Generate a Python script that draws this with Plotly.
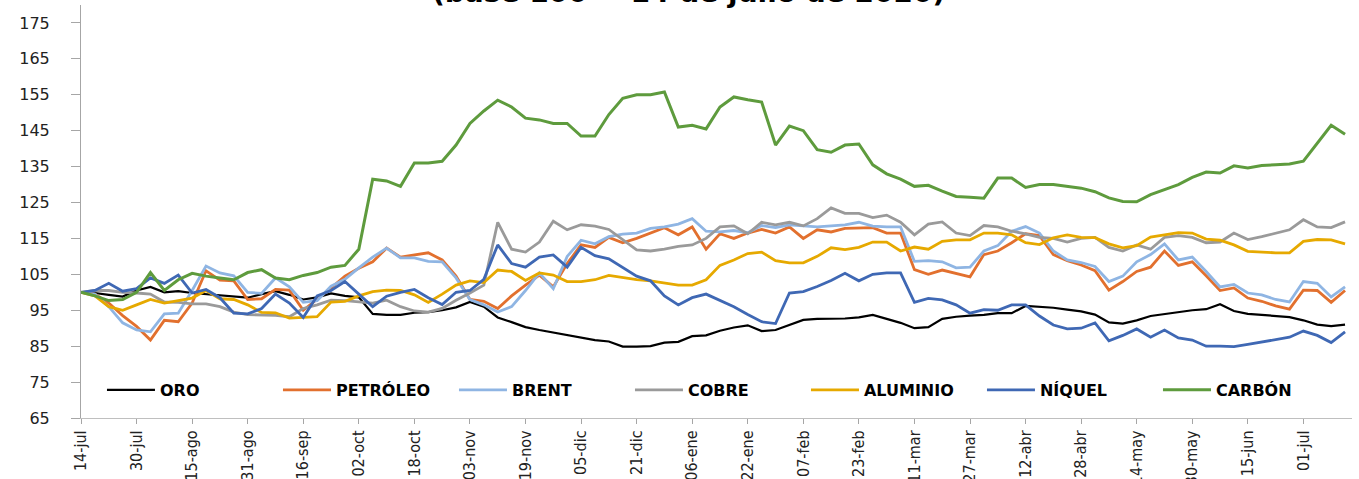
import pandas as pd
import plotly.graph_objects as go

# =====================================================
# Precios de materias primas (base 100 = 14 de julio de 2020)
# =====================================================

# fechas de las observaciones (cada 4 dias desde el 14-jul-2020)
fechas = pd.date_range('2020-07-14', periods=92, freq='4D')

oro = [
    100, 99.8, 99.3, 98.8, 100.5, 101.5, 100, 100.3, 99.8, 99.5, 99.3, 99, 98.5,
    99.5, 100.3, 99.3, 98, 98.6, 99.7, 99, 98.6, 94, 93.7, 93.7, 94.3, 94.5, 95,
    95.8, 97.3, 96, 93, 91.7, 90.3, 89.5, 88.8, 88.2, 87.6, 86.7, 86.3, 84.9, 84.9,
    85, 86, 86.2, 87.8, 88, 89.3, 90.2, 90.8, 89.2, 89.5, 91, 92.3, 92.6, 92.6,
    92.7, 93, 93.7, 92.6, 91.5, 90, 90.3, 92.6, 93.2, 93.5, 93.7, 94.2, 94.2, 96.2,
    96, 95.7, 95.2, 94.7, 93.8, 91.6, 91.3, 92.2, 93.4, 94, 94.6, 95, 95.3, 96.7,
    94.8, 94, 93.7, 93.4, 93.1, 92.2, 91, 90.6, 91,
]

petroleo = [
    100, 99.5, 97, 93.5, 90.5, 86.7, 92.2, 91.8, 97, 106, 103.4, 103.2, 98, 98.2,
    100.8, 100.6, 95, 98, 101.2, 104.5, 106.7, 108.5, 112.3, 109.8, 110.5, 111,
    109, 104.5, 98, 97.5, 95.5, 99, 102, 104.8, 101.5, 108, 113.2, 112.5, 115.3,
    113.8, 115, 116.5, 118, 116, 118.2, 112, 116.3, 115, 116.5, 117.5, 116.5,
    118.2, 115, 117.4, 116.8, 117.8, 118, 118, 116.5, 116.5, 106.3, 105, 106.2,
    105.3, 104.3, 110.5, 111.5, 113.8, 116.3, 115.8, 110.5, 108.8, 107.6, 106,
    100.6, 103, 105.8, 107, 111.5, 107.5, 108.5, 104.6, 100.5, 101.2, 98.4, 97.5,
    96.2, 95.3, 100.6, 100.5, 97.2, 100.5,
]

brent = [
    100, 99.5, 96, 91.5, 89.5, 89, 94, 94.2, 100.5, 107.3, 105.4, 104.6, 100, 99.7,
    104, 101.5, 97.2, 97.7, 101.7, 103.6, 106.8, 109.8, 112.3, 109.6, 109.6, 108.6,
    108.5, 104, 98, 96.5, 94.5, 96, 100.5, 105.4, 101, 110, 114.5, 113.5, 115.5,
    116.2, 116.5, 117.8, 118.2, 119, 120.5, 117, 116.8, 117.2, 116.6, 118.6, 118,
    118.8, 118.5, 118.2, 118.5, 118.8, 119.5, 118.4, 118.2, 118.2, 108.6, 108.8,
    108.5, 106.8, 107, 111.5, 113, 117, 118.3, 116.5, 111.5, 109, 108.3, 107.2,
    103, 104.5, 108.5, 110.5, 113.5, 109, 109.8, 105.8, 101.5, 102.2, 99.8, 99.3,
    98, 97.3, 103, 102.5, 98.7, 101.5,
]

cobre = [
    100, 100.5, 100.5, 100, 99.8, 99.5, 97.3, 97.2, 96.8, 96.8, 96, 94.5, 93.8,
    93.7, 93.6, 93.2, 95.5, 96.5, 97.8, 97.7, 97.3, 97, 97.8, 96, 94.8, 94.5, 95.5,
    97.8, 99.8, 102, 119.5, 112, 111.2, 114, 119.8, 117.4, 118.8, 118.4, 117.5,
    114.6, 111.8, 111.5, 112, 112.8, 113.2, 115, 118.2, 118.5, 116.3, 119.5, 118.8,
    119.5, 118.5, 120.5, 123.5, 122, 122, 120.8, 121.5, 119.5, 116, 119, 119.6,
    116.5, 115.8, 118.6, 118.2, 117, 116.3, 115.3, 115, 114, 115, 115.3, 112.5,
    111.5, 113.2, 112, 115.3, 115.8, 115.3, 113.8, 114, 116.5, 114.7, 115.5, 116.5,
    117.4, 120.2, 118.2, 118, 119.6,
]

aluminio = [
    100, 99, 96, 95, 96.5, 98, 97, 97.7, 98.4, 100.5, 98.2, 98, 96.5, 94.4, 94.3,
    92.8, 93.1, 93.2, 97.3, 97.5, 99, 100.2, 100.6, 100.5, 99.3, 97.2, 99.5, 102,
    103.2, 102.7, 106.2, 105.8, 103.3, 105.4, 104.8, 103, 103, 103.5, 104.7, 104,
    103.5, 103.2, 102.6, 102, 102, 103.5, 107.5, 109, 110.8, 111.2, 108.8, 108.2,
    108.2, 110, 112.4, 111.9, 112.5, 114, 114, 111.5, 112.6, 112, 114.2, 114.6,
    114.6, 116.5, 116.5, 116, 113.8, 113.3, 115.2, 116, 115.3, 115.2, 113.5, 112.4,
    113, 115.4, 116, 116.6, 116.5, 114.8, 114.5, 113.2, 111.4, 111.1, 111, 111,
    114.2, 114.7, 114.6, 113.5,
]

niquel = [
    100, 100.5, 102.5, 100.3, 101, 104, 102.5, 104.8, 99.8, 100.8, 98.5, 94.2, 94,
    95.5, 99.5, 97, 93, 99, 100.5, 103, 99.5, 96, 98.9, 100, 100.8, 98.5, 96.6, 100,
    100.5, 103.6, 113.2, 108, 107, 109.8, 110.4, 107, 112.5, 110.2, 109.3, 107,
    104.5, 103.2, 99, 96.5, 98.5, 99.5, 97.8, 96, 93.8, 91.8, 91.3, 99.8, 100.2,
    101.6, 103.3, 105.3, 103.2, 105, 105.4, 105.4, 97.2, 98.3, 97.9, 96.5, 94.2,
    95.2, 95, 96.5, 96.5, 93.4, 90.9, 89.8, 90, 91.5, 86.5, 88, 89.8, 87.5, 89.5,
    87.3, 86.7, 85, 85, 84.9, 85.5, 86.2, 86.8, 87.5, 89.2, 88, 86, 89,
]

carbon = [
    100, 99, 97.7, 98, 100, 105.5, 100.5, 103.5, 105.3, 104.5, 104, 103.5, 105.5,
    106.3, 104, 103.5, 104.7, 105.5, 107, 107.5, 112, 131.5, 131, 129.5, 136, 136,
    136.5, 141, 147, 150.5, 153.5, 151.6, 148.5, 148, 147, 147, 143.5, 143.5, 149.5,
    154, 155, 155, 155.8, 146, 146.5, 145.5, 151.6, 154.4, 153.6, 153, 141, 146.3,
    145, 139.7, 139, 141, 141.3, 135.5, 133, 131.5, 129.5, 129.8, 128.2, 126.7,
    126.5, 126.2, 131.8, 131.8, 129.2, 130, 130, 129.5, 129, 128, 126.3, 125.3,
    125.2, 127.2, 128.6, 130, 132, 133.5, 133.2, 135.2, 134.6, 135.3, 135.5, 135.7,
    136.5, 141.6, 146.5, 144,
]

# etiquetas del eje x (cada 16 dias)
fechas_ticks = pd.date_range('2020-07-14', periods=23, freq='16D')
etiquetas_ticks = [
    '14-jul', '30-jul', '15-ago', '31-ago', '16-sep', '02-oct', '18-oct', '03-nov',
    '19-nov', '05-dic', '21-dic', '06-ene', '22-ene', '07-feb', '23-feb', '11-mar',
    '27-mar', '12-abr', '28-abr', '14-may', '30-may', '15-jun', '01-jul',
]
valores_y = list(range(65, 180, 10))

series = [
    ('ORO', oro, '#000000', 2.2),
    ('PETRÓLEO', petroleo, '#E2702E', 2.8),
    ('BRENT', brent, '#8FB5E3', 2.8),
    ('COBRE', cobre, '#9A9A9A', 2.8),
    ('ALUMINIO', aluminio, '#E6A900', 2.8),
    ('NÍQUEL', niquel, '#3F68B4', 2.8),
    ('CARBÓN', carbon, '#5E9B3D', 3.0),
]

fig = go.Figure()
for nombre, valores, color, ancho in series:
    fig.add_trace(go.Scatter(
        x=fechas, y=valores, name=nombre, mode='lines',
        line=dict(color=color, width=ancho)
    ))

# titulo (cortado en la parte superior, como en la imagen)
fig.add_annotation(
    text='<b>(base 100 = 14 de julio de 2020)</b>',
    xref='paper', yref='paper', x=0.478, y=0.985,
    xanchor='center', yanchor='bottom', showarrow=False,
    font=dict(family='DejaVu Sans', size=28, color='#000000')
)

fig.update_layout(
    width=1359, height=479,
    margin=dict(l=81, r=7, t=5, b=61, autoexpand=False),
    plot_bgcolor='white', paper_bgcolor='white',
    showlegend=True,
    legend=dict(
        orientation='h', x=0.0165, y=0.068, xanchor='left', yanchor='middle',
        bgcolor='rgba(0,0,0,0)', entrywidth=113, itemwidth=48,
        font=dict(family='DejaVu Sans', size=16, color='#000000', weight='bold')
    ),
    xaxis=dict(
        type='date', range=['2020-07-14', '2021-07-15'], automargin=False,
        tickvals=fechas_ticks, ticktext=etiquetas_ticks, tickangle=-90,
        ticks='outside', ticklen=5, tickcolor='#A6A6A6',
        showline=True, linecolor='#BFBFBF', linewidth=1, showgrid=False, zeroline=False,
        tickfont=dict(family='Liberation Sans Narrow, DejaVu Sans Condensed, sans-serif',
                      size=16, color='#222222')
    ),
    yaxis=dict(
        range=[65, 180], tickvals=valores_y, automargin=False,
        ticks='outside', ticklen=9, tickcolor='#A6A6A6', ticklabelstandoff=18,
        showline=True, linecolor='#A6A6A6', linewidth=1, showgrid=False, zeroline=False,
        tickfont=dict(family='DejaVu Sans', size=16, color='#222222')
    ),
)

# sin margen del body para que la figura empiece en la esquina de la ventana
fig.write_html('out.html', config={'displayModeBar': False},
               post_script="document.body.style.margin = '0';")
